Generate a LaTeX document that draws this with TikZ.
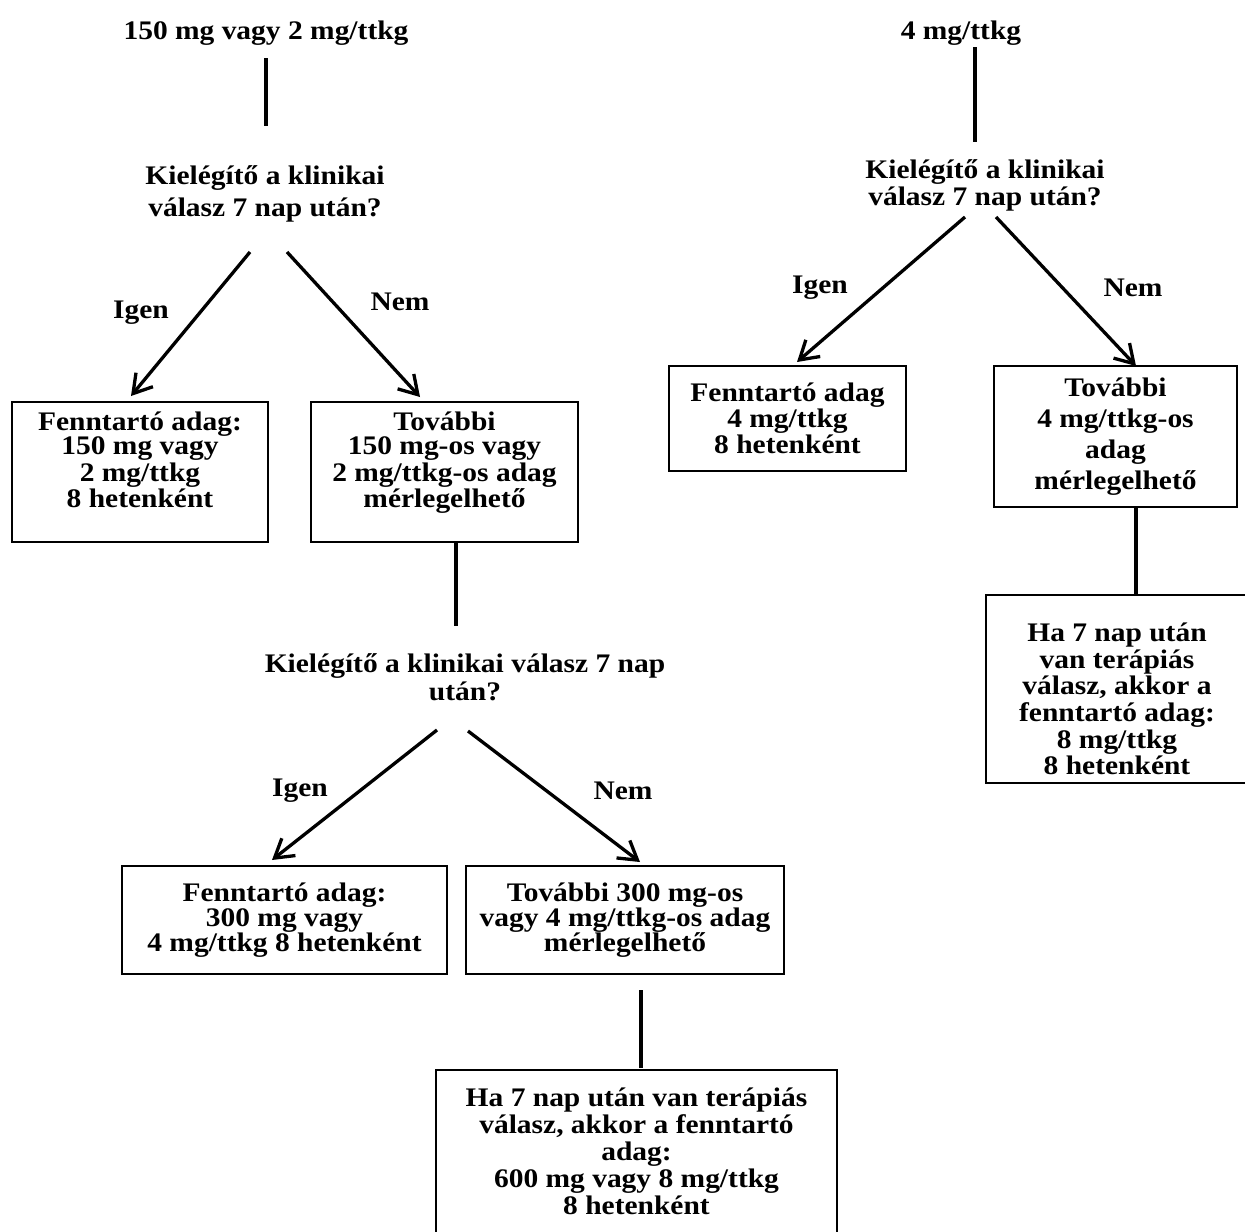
\documentclass[tikz,border=0pt]{standalone}
\usepackage{fontspec}
\setmainfont{Liberation Serif}[FakeStretch=1.1]
\usetikzlibrary{arrows.meta}

\tikzset{
  txt/.style={font=\bfseries\fontsize{13.4}{#1}\selectfont, align=center, inner sep=0pt},
  txt/.default=12,
  box/.style={draw, line width=1.35pt, inner sep=4pt},
  conn/.style={line width=1.65pt},
  arr/.style={conn, -{Straight Barb[length=9pt,width=11pt]}}
}

\begin{document}
\begin{tikzpicture}[x=0.5pt, y=-0.5pt]
\useasboundingbox (0,0) rectangle (1245,1231);
\clip (0,0) rectangle (1245,1231);

%left tree
\node[txt] (dose1) at (266,33) {150 mg vagy 2 mg/ttkg};
\node[txt=16] (ask1) at (265,194) {Kielégítő a klinikai\\válasz 7 nap után?};
\node[txt, box, minimum width=128pt, minimum height=70pt] (keep1) at (140,472)
  {Fenntartó adag:\\150 mg vagy\\2 mg/ttkg\\8 hetenként\\\mbox{}};
\node[txt, box, minimum width=133.5pt, minimum height=70pt] (more1) at (444.5,472)
  {További\\150 mg-os vagy\\2 mg/ttkg-os adag\\mérlegelhető\\\mbox{}};
\node[txt=14] (ask2) at (465,677) {Kielégítő a klinikai válasz 7 nap\\után?};
\node[txt=12.5, box, minimum width=162.5pt, minimum height=54pt] (keep2) at (284.5,920)
  {Fenntartó adag:\\300 mg vagy\\4 mg/ttkg 8 hetenként};
\node[txt=12.5, box, minimum width=159pt, minimum height=54pt] (more2) at (625,920)
  {További 300 mg-os\\vagy 4 mg/ttkg-os adag\\mérlegelhető};
\node[txt=13.5, box, minimum width=200.5pt, minimum height=95pt] (last1) at (636.5,1165)
  {Ha 7 nap után van terápiás\\válasz, akkor a fenntartó\\adag:\\600 mg vagy 8 mg/ttkg\\8 hetenként\\\mbox{}};

\node[txt] (yes1) at (141,313) {Igen};
\node[txt] (no1) at (400,302) {Nem};
\node[txt] (yes2) at (300,791) {Igen};
\node[txt] (no2) at (623,791) {Nem};

%right tree
\node[txt] (dose2) at (961,33) {4 mg/ttkg};
\node[txt=13.5] (ask3) at (985,185) {Kielégítő a klinikai\\válasz 7 nap után?};
\node[txt=13, box, minimum width=118.5pt, minimum height=52.5pt] (keep3) at (787.5,418.5)
  {Fenntartó adag\\4 mg/ttkg\\8 hetenként};
\node[txt=15.5, box, minimum width=121.5pt, minimum height=70.5pt] (more3) at (1115.5,436.5)
  {További\\4 mg/ttkg-os\\adag\\mérlegelhető};
\node[txt=13.3, box, minimum width=131pt, minimum height=92pt] (last2) at (1117,689)
  {\mbox{}\\[6pt]Ha 7 nap után\\van terápiás\\válasz, akkor a\\fenntartó adag:\\8 mg/ttkg\\8 hetenként};

\node[txt] (yes3) at (820,288) {Igen};
\node[txt] (no3) at (1133,288) {Nem};

%connector ends
\coordinate (dose1B) at (266,58);
\coordinate (ask1T) at (266,126);
\coordinate (ask1L) at (250,252);
\coordinate (keep1T) at (131,396);
\coordinate (ask1R) at (287,252);
\coordinate (more1T) at (420,397);
\coordinate (more1B) at (456,542);
\coordinate (ask2T) at (456,626);
\coordinate (ask2L) at (437,730);
\coordinate (keep2T) at (272,860);
\coordinate (ask2R) at (468,731);
\coordinate (more2T) at (640,862);
\coordinate (more2B) at (641,990);
\coordinate (last1T) at (641,1068);

\coordinate (dose2B) at (975,47);
\coordinate (ask3T) at (975,142);
\coordinate (ask3L) at (965,217);
\coordinate (keep3T) at (797,362);
\coordinate (ask3R) at (996,217);
\coordinate (more3T) at (1136,366);
\coordinate (more3B) at (1136,507);
\coordinate (last2T) at (1136,595);

%connectors
\draw[conn] (dose1B) -- (ask1T);
\draw[arr] (ask1L) -- (keep1T);
\draw[arr] (ask1R) -- (more1T);
\draw[conn] (more1B) -- (ask2T);
\draw[arr] (ask2L) -- (keep2T);
\draw[arr] (ask2R) -- (more2T);
\draw[conn] (more2B) -- (last1T);

\draw[conn] (dose2B) -- (ask3T);
\draw[arr] (ask3L) -- (keep3T);
\draw[arr] (ask3R) -- (more3T);
\draw[conn] (more3B) -- (last2T);
\end{tikzpicture}
\end{document}
